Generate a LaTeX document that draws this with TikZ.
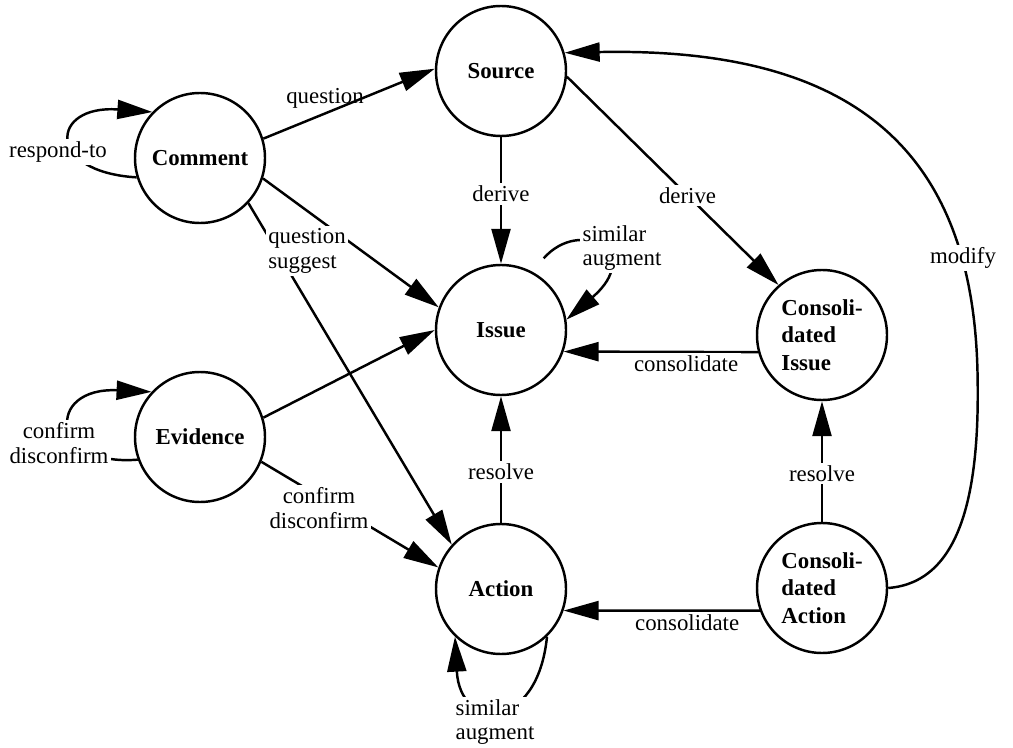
\documentclass[tikz,border=0pt]{standalone}
\usepackage{fontspec}
\setmainfont{Liberation Serif}
\usetikzlibrary{arrows.meta}
\begin{document}
\begin{tikzpicture}[
  state/.style={draw, circle, line width=1.4pt, minimum size=2.6cm, inner sep=0pt,
    font=\bfseries\fontsize{13}{15.5}\selectfont, align=left},
  lab/.style={fill=white, inner sep=1.5pt, font=\fontsize{13}{14}\selectfont},
  arr/.style={line width=1.4pt, -{Triangle[length=0.7cm, width=0.38cm]}}
]
\useasboundingbox (0,0) rectangle (20.26,14.94);
% the seven states
\node[state] (comment) at (4.0,11.78) {Comment};
\node[state] (source) at (10.02,13.52) {Source};
\node[state] (issue) at (10.02,8.34) {Issue};
\node[state] (evidence) at (4.0,6.2) {Evidence};
\node[state] (action) at (10.02,3.16) {Action};
\node[state] (consissue) at (16.44,8.24) {Consoli-\\dated\\Issue};
\node[state] (consaction) at (16.44,3.18) {Consoli-\\dated\\Action};
% loops
\draw[arr] (comment.197) .. controls (0.9,11.5) and (1.0,12.85) .. (comment.136);
\node[lab] (respond) at (1.16,11.9) {respond-to};
\draw[arr] (evidence.200) .. controls (1.0,5.6) and (0.9,7.2) .. (evidence.137);
\node[lab, align=center] (evloop) at (1.18,6.08) {confirm\\disconfirm};
\draw[arr, shorten <=0.35cm] (issue.62) .. controls (11.6,10.6) and (12.9,9.9) .. (issue.9);
\node[lab, align=left] (issloop) at (12.44,9.98) {similar\\augment};
\draw[arr] (action.-46) .. controls (10.75,0.3) and (9.2,0.3) .. (action.226);
\node[lab, align=left] (actloop) at (9.9,0.5) {similar\\augment};
% links
\draw[arr] (comment.17) -- (source.178);
\node[lab, fill=none] (q1) at (6.5,12.98) {question};
\draw[arr] (source) -- node[lab, pos=.45] (der1) {derive} (issue);
\draw[arr] (source.-5) -- node[lab, pos=.57] (der2) {derive} (consissue.131);
\draw[arr] (comment.-18.7) -- (issue.160);
\draw[arr] (comment.-43) -- (action.138);
\node[lab, align=left] (qs) at (6.14,9.92) {question\\suggest};
\draw[arr] (evidence.17) -- (issue.180);
\draw[arr] (evidence.-22) -- (action.161);
\node[lab, align=center] (cd) at (6.38,4.78) {confirm\\disconfirm};
\draw[arr] (action) -- node[lab, pos=.4] (res1) {resolve} (issue);
\draw[arr] (consaction) -- node[lab, pos=.4] (res2) {resolve} (consissue);
\draw[arr] (consissue.195) -- node[lab, below, pos=.37] (con1) {consolidate} (issue.341);
\draw[arr] (consaction.200) -- node[lab, below, pos=.37] (con2) {consolidate} (action.-19);
\draw[arr] (consaction.east) .. controls (19.3,3.3) and (19.6,5.3) .. (19.55,7.5)
  .. controls (19.45,12.0) and (17.0,14.0) .. (source.16);
\node[lab] (mod) at (19.26,9.78) {modify};
\end{tikzpicture}
\end{document}
